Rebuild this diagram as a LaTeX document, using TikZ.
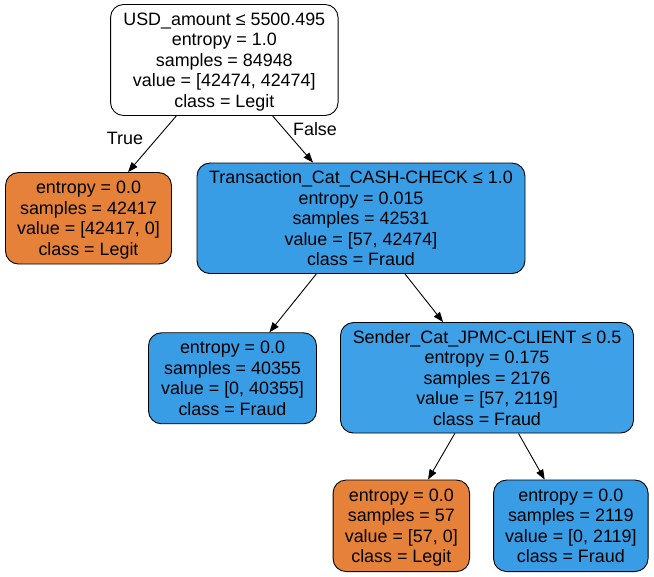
\documentclass[tikz,border=0pt]{standalone}
\usepackage{fontspec}
\setmainfont{Liberation Sans}
\usetikzlibrary{arrows.meta}
\definecolor{leg}{HTML}{E58139}
\definecolor{fra}{HTML}{399DE5}
\definecolor{fra2}{HTML}{3EA0E6}
\newcommand\lastln[1]{\raisebox{0pt}[\height][0pt]{#1}}
\tikzset{
  tnode/.style={draw=black, line width=0.9pt, rounded corners=13pt, align=center, inner sep=0pt,
    font=\fontsize{17.9}{20.5}\selectfont},
  edge/.style={line width=0.9pt, -{Triangle[length=10pt,width=7.5pt]}},
  elabel/.style={font=\fontsize{17.9}{20.5}\selectfont, inner sep=0pt}
}
\begin{document}
\begin{tikzpicture}[x=1pt,y=1pt]
\useasboundingbox[fill=white] (0,0) rectangle (654,-577);
\node[tnode, fill=white, minimum width=227.5pt, minimum height=111pt] (root) at (224.3,-60)
  {USD\_amount ≤ 5500.495\\entropy = 1.0\\samples = 84948\\value = [42474, 42474]\\\lastln{class = Legit}};
\node[tnode, fill=leg, minimum width=166pt, minimum height=91.5pt] (l1) at (88.5,-218.3)
  {entropy = 0.0\\samples = 42417\\value = [42417, 0]\\\lastln{class = Legit}};
\node[tnode, fill=fra, minimum width=328pt, minimum height=110.5pt] (tc) at (361,-218.3)
  {Transaction\_Cat\_CASH-CHECK ≤ 1.0\\entropy = 0.015\\samples = 42531\\value = [57, 42474]\\\lastln{class = Fraud}};
\node[tnode, fill=fra, minimum width=168pt, minimum height=91pt] (l2) at (232.5,-378.3)
  {entropy = 0.0\\samples = 40355\\value = [0, 40355]\\\lastln{class = Fraud}};
\node[tnode, fill=fra2, minimum width=293pt, minimum height=110.5pt] (sc) at (487,-377.8)
  {Sender\_Cat\_JPMC-CLIENT ≤ 0.5\\entropy = 0.175\\samples = 2176\\value = [57, 2119]\\\lastln{class = Fraud}};
\node[tnode, fill=leg, minimum width=136.5pt, minimum height=91.5pt] (l3) at (401.3,-525.8)
  {entropy = 0.0\\samples = 57\\value = [57, 0]\\\lastln{class = Legit}};
\node[tnode, fill=fra, minimum width=154.5pt, minimum height=91.5pt] (l4) at (570.8,-525.8)
  {entropy = 0.0\\samples = 2119\\value = [0, 2119]\\\lastln{class = Fraud}};
\draw[edge] (root) -- (l1);
\draw[edge] (root) -- (tc);
\draw[edge] (tc) -- (l2);
\draw[edge] (tc) -- (sc);
\draw[edge] (sc) -- (l3);
\draw[edge] (sc) -- (l4);
\node[elabel] (tl) at (125,-138) {True};
\node[elabel] (fl) at (315,-129) {False};
\end{tikzpicture}
\end{document}
